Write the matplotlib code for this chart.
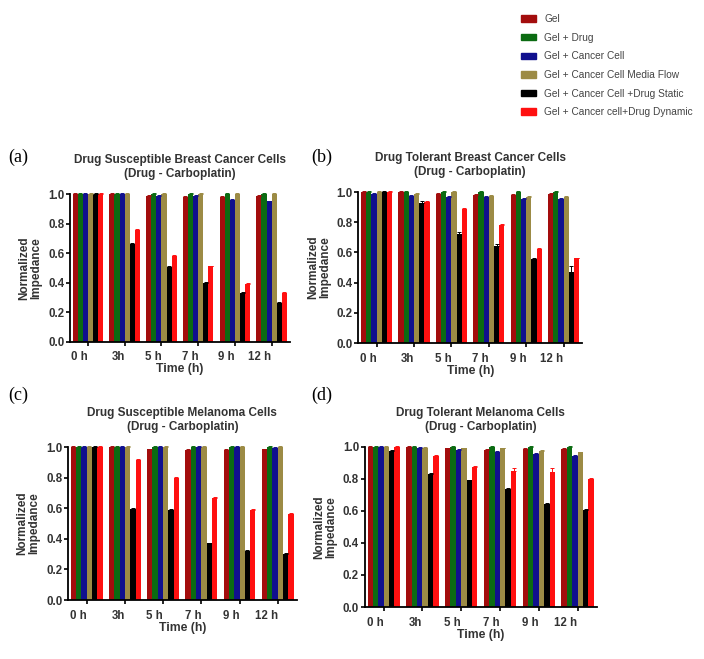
import matplotlib
matplotlib.use("Agg")
import matplotlib.pyplot as plt
import matplotlib.patches as mpatches
import numpy as np

plt.rcParams['font.family'] = ['Liberation Sans', 'DejaVu Sans']

# categories and series
times = ["0 h", "3h", "5 h", "7 h", "9 h", "12 h"]
series = ["Gel", "Gel + Drug", "Gel + Cancer Cell", "Gel + Cancer Cell Media Flow",
          "Gel + Cancer Cell +Drug Static", "Gel + Cancer cell+Drug Dynamic"]
colors = ["#a30d0d", "#0b6b12", "#10108e", "#9c8b45", "#000000", "#ff1010"]

# (a) Drug Susceptible Breast Cancer Cells
a_gel = [1.0, 1.0, 0.985, 0.98, 0.98, 0.985]
a_drug = [1.0, 1.0, 1.0, 1.0, 1.0, 1.0]
a_cell = [1.0, 1.0, 0.985, 0.99, 0.96, 0.95]
a_flow = [1.0, 1.0, 1.0, 1.0, 1.0, 1.0]
a_static = [1.0, 0.665, 0.505, 0.395, 0.33, 0.26]
a_dynamic = [1.0, 0.76, 0.58, 0.51, 0.39, 0.33]

# (b) Drug Tolerant Breast Cancer Cells
b_gel = [1.0, 1.0, 0.99, 0.98, 0.98, 0.985]
b_drug = [1.0, 1.0, 1.0, 1.0, 1.0, 1.0]
b_cell = [0.99, 0.975, 0.97, 0.965, 0.955, 0.955]
b_flow = [1.0, 0.99, 1.0, 0.975, 0.965, 0.965]
b_static = [1.0, 0.93, 0.725, 0.645, 0.555, 0.47]
b_dynamic = [1.0, 0.935, 0.887, 0.78, 0.622, 0.56]

# (c) Drug Susceptible Melanoma Cells
c_gel = [1.0, 1.0, 0.985, 0.98, 0.98, 0.985]
c_drug = [1.0, 1.0, 1.0, 1.0, 1.0, 1.0]
c_cell = [1.0, 1.0, 1.0, 1.0, 1.0, 0.995]
c_flow = [1.0, 1.0, 1.0, 1.0, 1.0, 1.0]
c_static = [1.0, 0.597, 0.59, 0.37, 0.322, 0.30]
c_dynamic = [1.0, 0.917, 0.80, 0.667, 0.592, 0.563]

# (d) Drug Tolerant Melanoma Cells
d_gel = [1.0, 1.0, 0.99, 0.98, 0.985, 0.985]
d_drug = [1.0, 1.0, 1.0, 1.0, 1.0, 1.0]
d_cell = [1.0, 0.995, 0.98, 0.97, 0.955, 0.945]
d_flow = [1.0, 0.995, 0.99, 0.99, 0.975, 0.965]
d_static = [0.977, 0.83, 0.79, 0.736, 0.642, 0.605]
d_dynamic = [1.0, 0.946, 0.874, 0.851, 0.841, 0.798]

# upper error bars (small)
err_small = [0.005, 0.005, 0.006, 0.006, 0.006, 0.006]
b_static_err = [0.005, 0.01, 0.01, 0.01, 0.01, 0.04]
d_dynamic_err = [0.005, 0.005, 0.008, 0.02, 0.025, 0.008]

panels = [
    ("(a)", "Drug Susceptible Breast Cancer Cells\n(Drug - Carboplatin)",
     [a_gel, a_drug, a_cell, a_flow, a_static, a_dynamic], [0.0994, 0.4815, 0.3125, 0.224]),
    ("(b)", "Drug Tolerant Breast Cancer Cells\n(Drug - Carboplatin)",
     [b_gel, b_drug, b_cell, b_flow, b_static, b_dynamic], [0.509, 0.4795, 0.318, 0.229]),
    ("(c)", "Drug Susceptible Melanoma Cells\n(Drug - Carboplatin)",
     [c_gel, c_drug, c_cell, c_flow, c_static, c_dynamic], [0.0966, 0.0895, 0.325, 0.232]),
    ("(d)", "Drug Tolerant Melanoma Cells\n(Drug - Carboplatin)",
     [d_gel, d_drug, d_cell, d_flow, d_static, d_dynamic], [0.518, 0.0789, 0.330, 0.243]),
]

fig = plt.figure(figsize=(7.04, 6.59), dpi=100)

x = np.arange(len(times))
width = 0.139

for label, title, data, pos in panels:
    ax = fig.add_axes(pos)
    for i, vals in enumerate(data):
        offs = (i - 2.5) * width
        ax.bar(x + offs, vals, width, color=colors[i], edgecolor="none", clip_on=False)
        if label == "(b)" and i == 4:
            e = b_static_err
        elif label == "(d)" and i == 5:
            e = d_dynamic_err
        else:
            e = err_small
        ax.errorbar(x + offs, vals, yerr=[np.zeros(len(vals)), e], fmt="none",
                    ecolor=colors[i], elinewidth=0.7, capsize=1.2, capthick=0.7, clip_on=False)
    ax.set_xlim(-0.49, 5.5)
    ax.set_ylim(0, 1.0)
    ax.set_yticks([0, 0.2, 0.4, 0.6, 0.8, 1.0])
    ax.set_yticklabels(["0.0", "0.2", "0.4", "0.6", "0.8", "1.0"], fontsize=8.3,
                       fontweight="bold", color="#333333")
    ax.set_xticks(x)
    ax.set_xticklabels(times, fontsize=8.3, fontweight="bold", ha="right", color="#333333")
    ax.spines["top"].set_visible(False)
    ax.spines["right"].set_visible(False)
    ax.spines["left"].set_linewidth(1.3)
    ax.spines["bottom"].set_linewidth(1.3)
    ax.tick_params(axis="y", width=1.2, length=3, pad=1)
    ax.tick_params(axis="x", width=1.2, length=3, pad=4)
    ax.set_title(title, fontsize=8.5, fontweight="bold", color="#333333", pad=12, linespacing=1.25)
    ax.set_ylabel("Normalized\nImpedance", fontsize=8.5, fontweight="bold", color="#333333",
                  labelpad=4, linespacing=1.0)
    ax.set_xlabel("Time (h)", fontsize=8.8, fontweight="bold", color="#333333", labelpad=0)

# panel letters
fig.text(8 / 704, 1 - 162 / 659, "(a)", fontsize=13, family="Liberation Serif")
fig.text(311 / 704, 1 - 162 / 659, "(b)", fontsize=13, family="Liberation Serif")
fig.text(8 / 704, 1 - 400 / 659, "(c)", fontsize=13, family="Liberation Serif")
fig.text(311 / 704, 1 - 400 / 659, "(d)", fontsize=13, family="Liberation Serif")

handles = [mpatches.Patch(color=c, label=s) for c, s in zip(colors, series)]
fig.legend(handles=handles, loc="upper left", bbox_to_anchor=(512 / 704, 1 - 5 / 659),
           frameon=False, fontsize=7.3, handlelength=1.5, handleheight=0.6,
           handletextpad=0.8, labelspacing=0.85, labelcolor="#444444")

fig.savefig("out.png", dpi=100)
